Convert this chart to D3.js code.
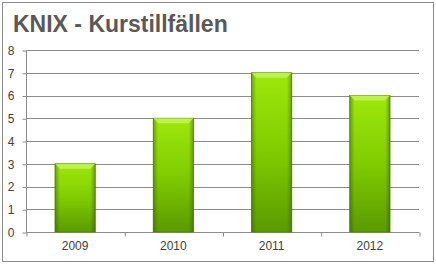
<!DOCTYPE html>
<html><head><meta charset="utf-8">
<script src="https://cdn.jsdelivr.net/npm/d3@7"></script>
<style>body{margin:0;background:#fff}svg{display:block}</style>
</head><body>
<script>
const categories = ["2009","2010","2011","2012"];
const values = [3,5,7,6];
const yTicks = [0,1,2,3,4,5,6,7,8];
const title = "KNIX - Kurstillfällen";

const W = 436, H = 268;
const svg = d3.select("body").append("svg").attr("width", W).attr("height", H);
const defs = svg.append("defs");
const gv = defs.append("linearGradient").attr("id","gv").attr("x1",0).attr("y1",0).attr("x2",0).attr("y2",1);
gv.append("stop").attr("offset","0%").attr("stop-color","#9fe80c");
gv.append("stop").attr("offset","50%").attr("stop-color","#80cc00");
gv.append("stop").attr("offset","100%").attr("stop-color","#5a9a00");
const gh = defs.append("linearGradient").attr("id","gh").attr("x1",0).attr("y1",0).attr("x2",1).attr("y2",0);
gh.append("stop").attr("offset","0%").attr("stop-color","#2d5200").attr("stop-opacity",0.45);
gh.append("stop").attr("offset","12%").attr("stop-color","#2d5200").attr("stop-opacity",0.0);
gh.append("stop").attr("offset","88%").attr("stop-color","#2d5200").attr("stop-opacity",0.0);
gh.append("stop").attr("offset","100%").attr("stop-color","#2d5200").attr("stop-opacity",0.45);

svg.append("rect").attr("x",2.5).attr("y",2.5).attr("width",431).attr("height",259)
  .attr("fill","#fff").attr("stroke","#8c8c8c");

svg.append("text").attr("x",13).attr("y",32).text(title)
  .attr("font-family","Liberation Sans, Arial, sans-serif").attr("font-weight","bold")
  .attr("font-size",23).attr("fill","#595959");

const m = {left:26, right:419, top:50, bottom:232};
const x = d3.scaleBand().domain(categories).range([m.left, m.right]).paddingInner(0.59).paddingOuter(0.295);
const y = d3.scaleLinear().domain([0,8]).range([m.bottom, m.top]);

const grid = svg.append("g");
grid.selectAll("line").data(yTicks.filter(d=>d>0)).join("line")
  .attr("x1",m.left).attr("x2",m.right).attr("y1",d=>Math.round(y(d))+0.5).attr("y2",d=>Math.round(y(d))+0.5)
  .attr("stroke","#8c8c8c");

const yAxis = svg.append("g").attr("transform",`translate(${m.left+0.5},0.5)`)
  .call(d3.axisLeft(y).tickValues(yTicks).tickSize(4).tickPadding(8).tickFormat(d3.format("d")));
const xb = d3.scaleLinear().domain([0,categories.length]).range([m.left, m.right]);
const xAxis = svg.append("g").attr("transform",`translate(0.5,${m.bottom+0.5})`)
  .call(d3.axisBottom(xb).tickValues(d3.range(0,categories.length+1)).tickSize(4).tickFormat(""));
[yAxis,xAxis].forEach(a=>{
  a.selectAll("path,line").attr("stroke","#8c8c8c");
  a.selectAll("path").attr("d", a===yAxis ? `M0,${m.top}V${m.bottom}` : `M${m.left},0H${m.right}`);
  a.selectAll("text").attr("font-family","Liberation Sans, Arial, sans-serif").attr("font-size",12).attr("fill","#404040");
});
svg.append("g").selectAll("text").data(categories).join("text")
  .attr("x",d=>x(d)+x.bandwidth()/2).attr("y",250).attr("text-anchor","middle")
  .attr("font-family","Liberation Sans, Arial, sans-serif").attr("font-size",12).attr("fill","#404040").text(d=>d);

const bars = svg.append("g");
const data = categories.map((c,i)=>({c, v: values[i]}));
bars.selectAll("rect.b").data(data).join("rect").attr("class","b")
  .attr("x",d=>x(d.c)).attr("y",d=>y(d.v)).attr("width",x.bandwidth()).attr("height",d=>y(0)-y(d.v))
  .attr("fill","url(#gv)").attr("stroke","#4f8a00").attr("stroke-width",0.8);
bars.selectAll("rect.h").data(data).join("rect").attr("class","h")
  .attr("x",d=>x(d.c)).attr("y",d=>y(d.v)).attr("width",x.bandwidth()).attr("height",d=>y(0)-y(d.v))
  .attr("fill","url(#gh)");
bars.selectAll("path.t").data(data).join("path").attr("class","t")
  .attr("d",d=>{const x0=x(d.c), x1=x0+x.bandwidth(), t=y(d.v); return `M${x0},${t}H${x1}L${x1-5},${t+5}H${x0+5}Z`;})
  .attr("fill","#c4f55a").attr("opacity",0.8);
</script>
</body></html>
